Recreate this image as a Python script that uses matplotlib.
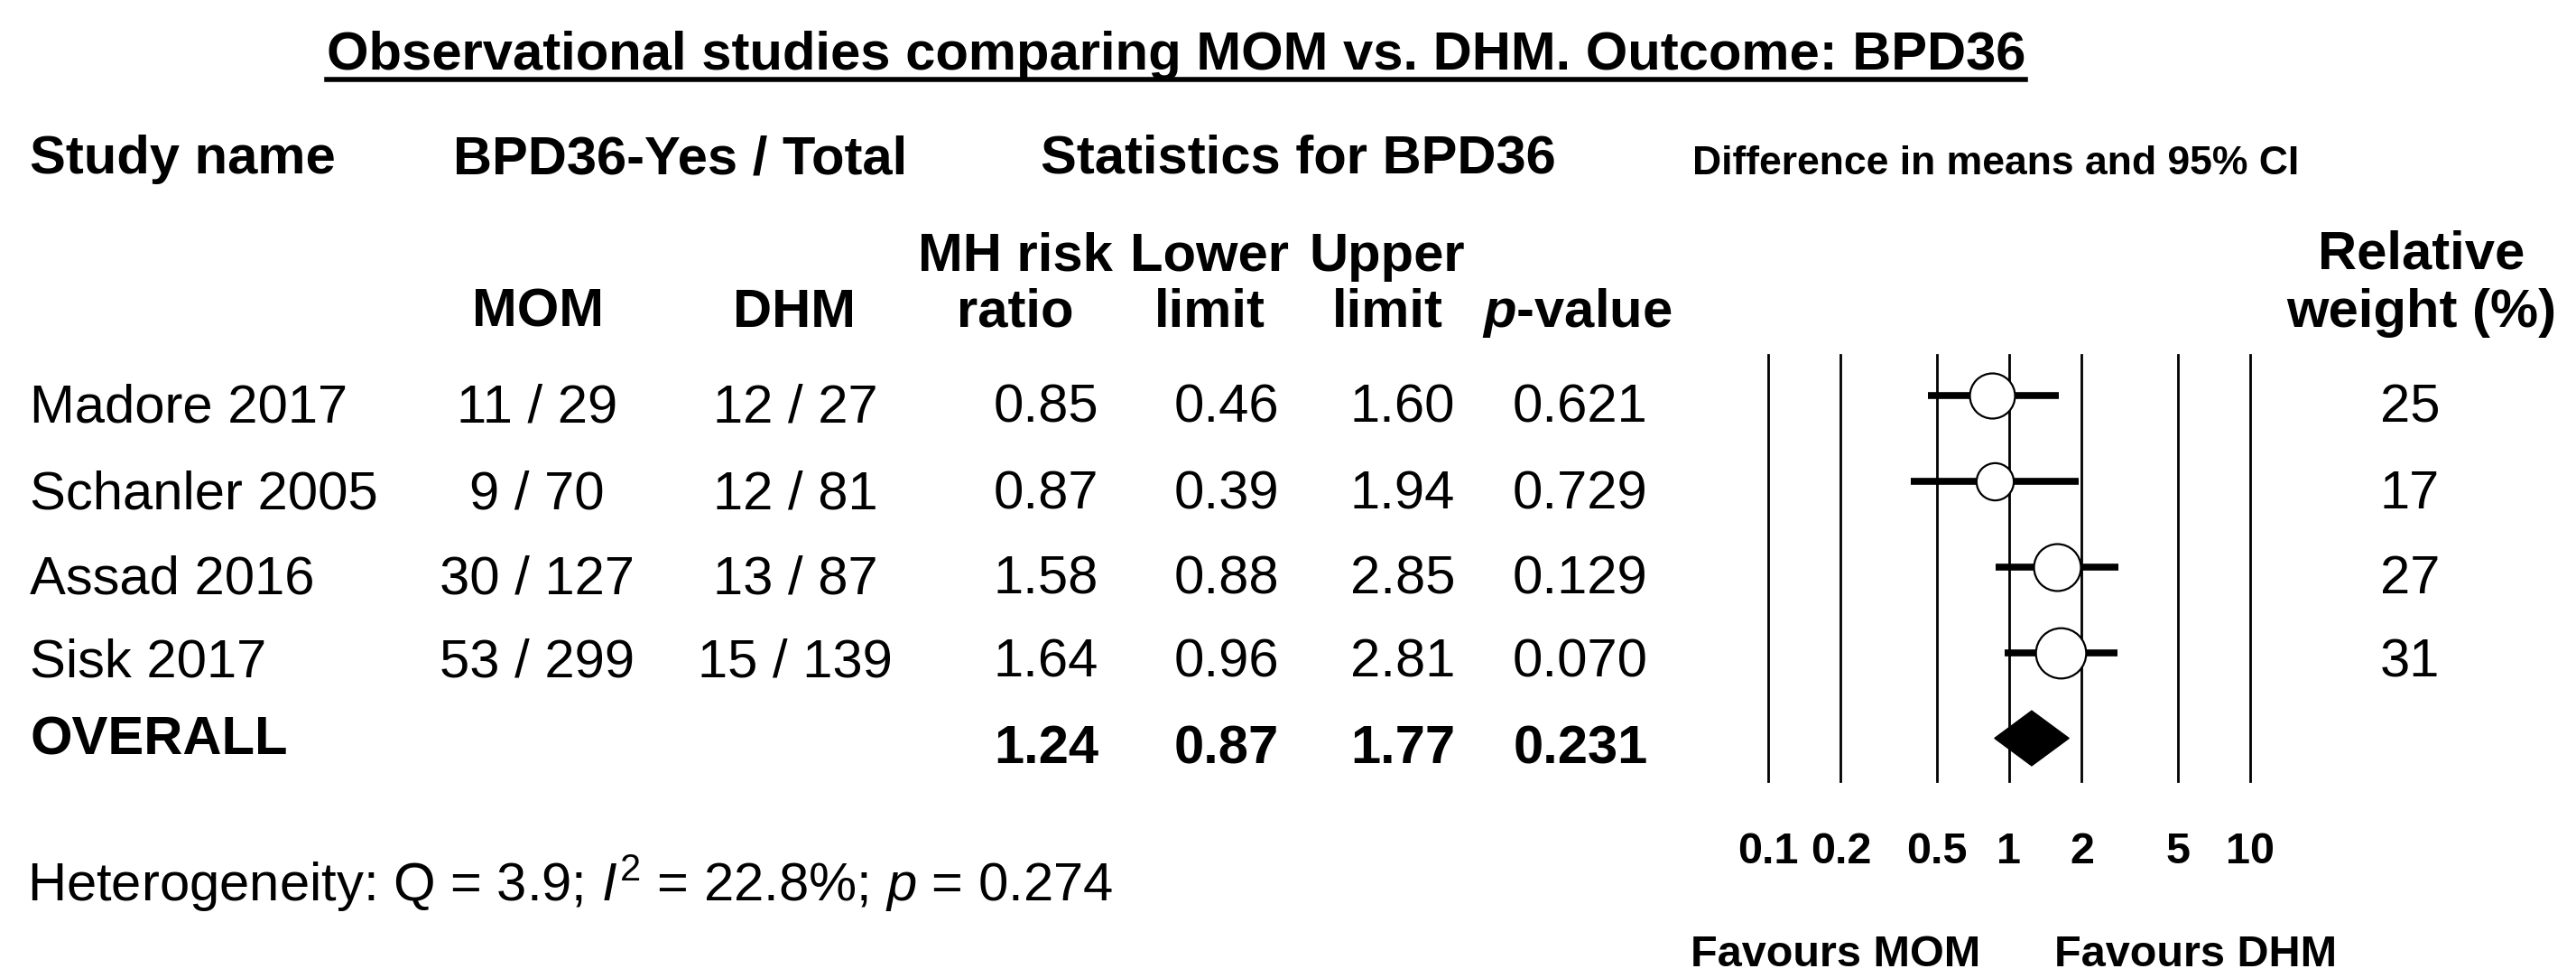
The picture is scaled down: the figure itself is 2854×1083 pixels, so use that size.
import matplotlib
matplotlib.use('Agg')
from matplotlib import pyplot as plt
from matplotlib.lines import Line2D
from matplotlib.patches import Polygon
import numpy as np

plt.rcParams['font.family'] = ['Liberation Sans', 'DejaVu Sans']
plt.rcParams['mathtext.fontset'] = 'custom'
plt.rcParams['mathtext.rm'] = 'Liberation Sans'
plt.rcParams['mathtext.it'] = 'Liberation Sans:italic'
plt.rcParams['mathtext.bf'] = 'Liberation Sans:italic:bold'

# data
studies = ['Madore 2017', 'Schanler 2005', 'Assad 2016', 'Sisk 2017']
mom_yes = [11, 9, 30, 53]
mom_total = [29, 70, 127, 299]
dhm_yes = [12, 12, 13, 15]
dhm_total = [27, 81, 87, 139]
risk_ratio = [0.85, 0.87, 1.58, 1.64]
lower = [0.46, 0.39, 0.88, 0.96]
upper = [1.60, 1.94, 2.85, 2.81]
p_values = ['0.621', '0.729', '0.129', '0.070']
weights = [25, 17, 27, 31]
overall = {'rr': 1.24, 'lower': 0.87, 'upper': 1.77, 'p': '0.231'}
ticks = [0.1, 0.2, 0.5, 1, 2, 5, 10]
tick_labels = ['0.1', '0.2', '0.5', '1', '2', '5', '10']

W, H = 2854, 1083
fig = plt.figure(figsize=(W / 100, H / 100), dpi=100)
fig.patch.set_facecolor('white')

FS = 43      # main text
FS_S = 32    # "Difference in means" header
FS_T = 35    # ticks / favours


def put(x, y, s, **kw):
    # x, y in pixels from the top left corner, y is the baseline
    kw.setdefault('fontsize', FS)
    return fig.text(x / W, 1 - y / H, s, va='baseline', **kw)


# title with underline
title = put(362, 77, 'Observational studies comparing MOM vs. DHM. Outcome: BPD36',
            fontweight='bold')
fig.canvas.draw()
bb = title.get_window_extent()
fig.add_artist(Line2D([bb.x0 / W, bb.x1 / W], [1 - 88 / H, 1 - 88 / H],
                      transform=fig.transFigure, color='black', lw=4))

# headers
put(33, 192, 'Study name', fontweight='bold')
put(754, 192, 'BPD36-Yes / Total', fontweight='bold', ha='center')
put(1438, 192, 'Statistics for BPD36', fontweight='bold', ha='center')
put(1875, 193, 'Difference in means and 95% CI', fontweight='bold', fontsize=FS_S)

col_x = {'mom': 596, 'dhm': 880, 'rr': 1125, 'lo': 1340, 'up': 1537, 'p': 1747}
put(col_x['mom'], 362, 'MOM', fontweight='bold', ha='center')
put(col_x['dhm'], 362, 'DHM', fontweight='bold', ha='center')
put(col_x['rr'], 300, 'MH risk', fontweight='bold', ha='center')
put(col_x['rr'], 362, 'ratio', fontweight='bold', ha='center')
put(col_x['lo'], 300, 'Lower', fontweight='bold', ha='center')
put(col_x['lo'], 362, 'limit', fontweight='bold', ha='center')
put(col_x['up'], 300, 'Upper', fontweight='bold', ha='center')
put(col_x['up'], 362, 'limit', fontweight='bold', ha='center')
put(col_x['p'], 362, r'$\mathbf{p}$-value', fontweight='bold', ha='center')
put(2683, 298, 'Relative', fontweight='bold', ha='center')
put(2683, 362, 'weight (%)', fontweight='bold', ha='center')

# study rows
row_base = [468, 563, 657, 750]
val_x = {'mom': 595, 'dhm': 881, 'rr': 1159, 'lo': 1359, 'up': 1554, 'p': 1751}
for i, name in enumerate(studies):
    yb = row_base[i]
    put(33, yb, name)
    put(val_x['mom'], yb, f'{mom_yes[i]} / {mom_total[i]}', ha='center')
    put(val_x['dhm'], yb, f'{dhm_yes[i]} / {dhm_total[i]}', ha='center')
    put(val_x['rr'], yb, f'{risk_ratio[i]:.2f}', ha='center')
    put(val_x['lo'], yb, f'{lower[i]:.2f}', ha='center')
    put(val_x['up'], yb, f'{upper[i]:.2f}', ha='center')
    put(val_x['p'], yb, p_values[i], ha='center')
    put(2670, yb, str(weights[i]), ha='center')

put(33, 835, 'OVERALL', fontweight='bold')
put(val_x['rr'], 845, f"{overall['rr']:.2f}", fontweight='bold', ha='center')
put(val_x['lo'], 845, f"{overall['lower']:.2f}", fontweight='bold', ha='center')
put(val_x['up'], 845, f"{overall['upper']:.2f}", fontweight='bold', ha='center')
put(val_x['p'], 845, overall['p'], fontweight='bold', ha='center')

put(30, 998, r'Heterogeneity: Q = 3.9; $I^2$ = 22.8%; $p$ = 0.274')

# forest plot
x0, x1 = 1959, 2493
y_top, y_bot = 393, 865
ax = fig.add_axes([x0 / W, 1 - y_bot / H, (x1 - x0) / W, (y_bot - y_top) / H])
ax.set_xscale('log')
ax.set_xlim(0.1, 10)
ax.set_ylim(4.5, -0.47)
for s in ax.spines.values():
    s.set_visible(False)
for t in ticks:
    ax.axvline(t, color='black', lw=2, clip_on=False, zorder=1)

rows = np.arange(len(studies))
for i in rows:
    ax.plot([lower[i], upper[i]], [i, i], color='black', lw=5.5,
            solid_capstyle='butt', zorder=2)
    ax.plot(risk_ratio[i], i, 'o', ms=36 * np.sqrt(weights[i] / 25),
            mfc='white', mec='black', mew=1.6, zorder=3)

h = 0.32
yo = len(studies)
diamond = Polygon([[overall['lower'], yo], [overall['rr'], yo - h],
                   [overall['upper'], yo], [overall['rr'], yo + h]],
                  closed=True, facecolor='black', edgecolor='black', zorder=3)
ax.add_patch(diamond)

ax.set_yticks([])
ax.set_xticks(ticks)
ax.set_xticklabels(tick_labels, fontsize=FS_T, fontweight='bold')
ax.xaxis.set_minor_locator(matplotlib.ticker.NullLocator())
ax.tick_params(axis='x', length=0, pad=40)

put(2034, 1070, 'Favours MOM', fontweight='bold', fontsize=FS_T, ha='center')
put(2433, 1070, 'Favours DHM', fontweight='bold', fontsize=FS_T, ha='center')

fig.savefig('out.png', dpi=100, facecolor='white')
